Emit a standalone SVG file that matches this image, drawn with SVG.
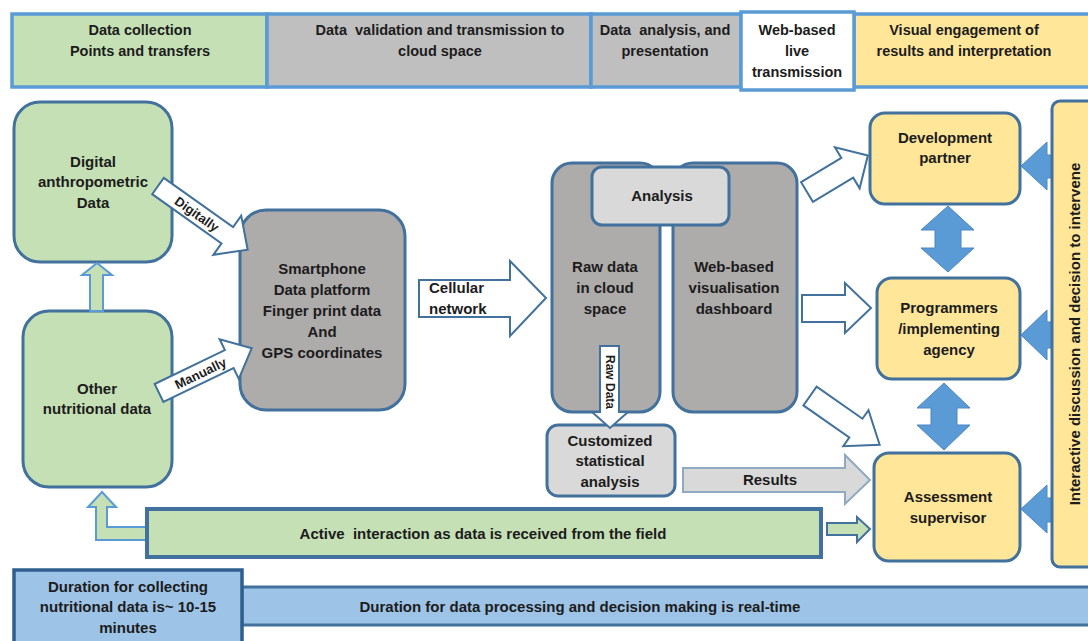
<svg xmlns="http://www.w3.org/2000/svg" width="1088" height="641" viewBox="0 0 1088 641">
<style>
text{font-family:"Liberation Sans",Arial,sans-serif;font-weight:bold;font-size:15px;fill:#1c1c1c;text-anchor:middle}
.pre{white-space:pre}
.h{font-size:14.5px}
.sm{font-size:13px}
.xs{font-size:12px}
.left{text-anchor:start}
.hdr{stroke:#5b9bd5;stroke-width:3.5}
.node{stroke:#41719c;stroke-width:3}
.green{fill:#c5e0b4}
.gray{fill:#aeabab}
.lgray{fill:#d9d9d9}
.yellow{fill:#ffe699}
.blue{fill:#9dc3e6}
.hollow{fill:#ffffff;stroke:#41719c;stroke-width:2}
.barrow{fill:#5b9bd5;stroke:#4a86c5;stroke-width:1}
</style>
<rect width="1088" height="641" fill="#ffffff"/>

<g id="header">
<rect class="hdr green" x="12" y="14" width="255" height="73"/>
<rect class="hdr" fill="#bfbfbf" x="267" y="14" width="324" height="73"/>
<rect class="hdr" fill="#bfbfbf" x="591" y="14" width="150" height="73"/>
<rect class="hdr yellow" x="854" y="14" width="240" height="73"/>
<rect class="hdr" fill="#ffffff" x="741" y="12" width="113" height="78"/>
<text class="h" x="140" y="35">Data collection</text>
<text class="h" x="140" y="56">Points and transfers</text>
<text class="h pre" x="440" y="35">Data  validation and transmission to</text>
<text class="h" x="440" y="56">cloud space</text>
<text class="h pre" x="665" y="35">Data  analysis, and</text>
<text class="h" x="665" y="56">presentation</text>
<text class="h" x="797" y="35">Web-based</text>
<text class="h" x="797" y="56">live</text>
<text class="h" x="797" y="77">transmission</text>
<text class="h" x="964" y="35">Visual engagement of</text>
<text class="h" x="964" y="56">results and interpretation</text>
</g>

<g id="digital">
<rect class="node green" x="14" y="102" width="158" height="160" rx="26"/>
<text x="93" y="167">Digital</text>
<text x="93" y="187">anthropometric</text>
<text x="93" y="208">Data</text>
</g>

<g id="other">
<rect class="node green" x="23" y="311" width="149" height="176" rx="26"/>
<text x="97" y="394">Other</text>
<text x="97" y="414">nutritional data</text>
</g>

<g id="smartphone">
<rect class="node gray" x="240" y="210" width="165" height="200" rx="26"/>
<text x="322" y="274">Smartphone</text>
<text x="322" y="295">Data platform</text>
<text x="322" y="316">Finger print data</text>
<text x="322" y="337">And</text>
<text x="322" y="358">GPS coordinates</text>
</g>

<g id="rawdata">
<rect class="node gray" x="552" y="163" width="108" height="249" rx="20"/>
<text x="605" y="272">Raw data</text>
<text x="605" y="293">in cloud</text>
<text x="605" y="314">space</text>
</g>

<g id="dashboard">
<rect class="node gray" x="673" y="163" width="124" height="249" rx="20"/>
<text x="734" y="272">Web-based</text>
<text x="734" y="293">visualisation</text>
<text x="734" y="314">dashboard</text>
</g>

<g id="analysis">
<rect class="node lgray" x="592" y="167" width="137" height="58" rx="10"/>
<text x="662" y="201">Analysis</text>
</g>

<g id="customized">
<rect class="node lgray" x="547" y="425" width="128" height="71" rx="11"/>
<text x="610" y="446">Customized</text>
<text x="610" y="466">statistical</text>
<text x="610" y="487">analysis</text>
</g>

<g id="devpartner">
<rect class="node yellow" x="870" y="113" width="150" height="91" rx="15"/>
<text x="945" y="143">Development</text>
<text x="945" y="163">partner</text>
</g>

<g id="programmers">
<rect class="node yellow" x="877" y="278" width="143" height="101" rx="15"/>
<text x="949" y="313">Programmers</text>
<text x="949" y="334">/implementing</text>
<text x="949" y="355">agency</text>
</g>

<g id="assessment">
<rect class="node yellow" x="874" y="453" width="146" height="108" rx="15"/>
<text x="948" y="502">Assessment</text>
<text x="948" y="523">supervisor</text>
</g>

<g id="connectors">
<polygon points="90,311 90,275 82,275 97,263 112,275 103,275 103,311" fill="#c5e0b4" stroke="#5b9bd5" stroke-width="2"/>
<polygon points="102,492 116,507 107,507 107,527 147,527 147,540 96,540 96,507 88,507" fill="#c5e0b4" stroke="#5b9bd5" stroke-width="2"/>
<g transform="translate(158,186) rotate(35.4)">
<polygon class="hollow" points="0,-10 85,-10 85,-24 110,0 85,24 85,10 0,10"/>
<text class="sm" x="48" y="5">Digitally</text>
</g>
<g transform="translate(159,393) rotate(-25.8)">
<polygon class="hollow" points="0,-10 78,-10 78,-22 103,0 78,22 78,10 0,10"/>
<text class="sm" x="46" y="5">Manually</text>
</g>
<polygon class="hollow" points="419,280 510,280 510,261 546,298 510,336 510,317 419,317"/>
<text class="left" x="429" y="293">Cellular</text>
<text class="left" x="429" y="314">network</text>
<polygon class="hollow" points="600,346 619,346 619,412 628,412 610,428 592,412 600,412"/>
<text class="xs" transform="translate(606,382) rotate(90)" x="0" y="0">Raw Data</text>
<polygon points="683,468 845,468 845,455 870,480 845,504 845,492 683,492" fill="#d9d9d9" stroke="#8ea9c1" stroke-width="2"/>
<text x="770" y="485">Results</text>
<g transform="translate(807,192) rotate(-31)">
<polygon class="hollow" points="0,-11.5 47,-11.5 47,-24 71,0 47,24 47,11.5 0,11.5"/>
</g>
<polygon class="hollow" points="802,295 845,295 845,283 871,308 845,333 845,322 802,322"/>
<g transform="translate(810,396) rotate(35)">
<polygon class="hollow" points="0,-11.5 56,-11.5 56,-22 85,0 56,22 56,11.5 0,11.5"/>
</g>
<polygon points="827,523 857,523 857,517 870,529 857,542 857,535 827,535" fill="#c5e0b4" stroke="#41719c" stroke-width="2"/>
<polygon class="barrow" points="948,206 974,230 961,230 961,248 974,248 948,272 921,248 935,248 935,230 921,230"/>
<polygon class="barrow" points="944,383 970,408 957,408 957,425 970,425 944,450 917,425 931,425 931,408 917,408"/>
<polygon class="barrow" points="1021,166 1047,142 1047,155 1054,155 1054,178 1047,178 1047,190"/>
<polygon class="barrow" points="1021,335 1047,310 1047,322 1054,322 1054,348 1047,348 1047,360"/>
<polygon class="barrow" points="1021,509 1047,485 1047,498 1054,498 1054,522 1047,522 1047,533"/>
</g>

<g id="interactive">
<rect class="node yellow" x="1052" y="101" width="50" height="466" rx="8"/>
<text transform="translate(1080,334) rotate(-90)" x="0" y="0">Interactive discussion and decision to intervene</text>
</g>

<g id="activebar">
<rect x="147" y="509" width="674" height="48" fill="#c5e0b4" stroke="#41719c" stroke-width="4"/>
<text class="pre" x="483" y="539">Active  interaction as data is received from the field</text>
</g>

<g id="realtime">
<rect class="blue" x="242" y="587" width="850" height="38" stroke="#41719c" stroke-width="3"/>
<text x="580" y="612">Duration for data processing and decision making is real-time</text>
</g>

<g id="duration">
<rect class="blue" x="14" y="570" width="228" height="80" stroke="#2f5f8f" stroke-width="3.5"/>
<text x="128" y="592">Duration for collecting</text>
<text x="128" y="612">nutritional data is~ 10-15</text>
<text x="128" y="633">minutes</text>
</g>
</svg>
